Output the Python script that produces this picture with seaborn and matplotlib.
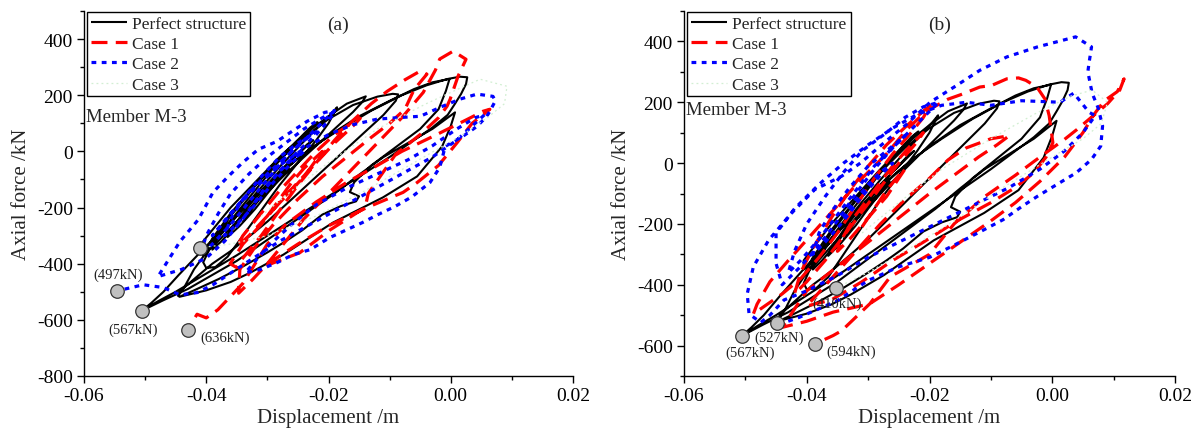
import numpy as np
import matplotlib
matplotlib.use("Agg")
import matplotlib.pyplot as plt
from matplotlib.ticker import MultipleLocator, FormatStrFormatter
import seaborn as sns

# ---------------------------------------------------------------------------
# Hysteresis paths (displacement in m, axial force in kN)
# ---------------------------------------------------------------------------
perfect_path = [
    (-0.034, -250), (-0.032, -190), (-0.030, -135), (-0.028, -90), (-0.0265, -60),
    (-0.0275, -85), (-0.030, -150), (-0.032, -205), (-0.0345, -265), (-0.0365, -305),
    (-0.036, -280), (-0.034, -220), (-0.031, -140), (-0.028, -70), (-0.025, -10),
    (-0.0225, 40), (-0.0235, 25), (-0.026, -30), (-0.029, -100), (-0.032, -180),
    (-0.035, -260), (-0.0375, -320), (-0.039, -350),
    (-0.0385, -310), (-0.036, -230), (-0.033, -150), (-0.030, -70), (-0.027, 0),
    (-0.024, 55), (-0.0225, 90), (-0.0218, 104), (-0.023, 85), (-0.0255, 30),
    (-0.0285, -45), (-0.0315, -125), (-0.0345, -205), (-0.037, -275), (-0.0395, -350),
    (-0.0405, -395), (-0.0400, -415), (-0.0385, -412), (-0.0365, -375),
    (-0.034, -300), (-0.031, -210), (-0.028, -120), (-0.025, -40), (-0.022, 40),
    (-0.020, 100), (-0.0186, 157), (-0.0195, 135), (-0.0215, 90), (-0.0245, 25),
    (-0.028, -55), (-0.0315, -140), (-0.035, -230), (-0.038, -305), (-0.0405, -350),
    (-0.0405, -320), (-0.039, -280), (-0.036, -200), (-0.032, -110), (-0.028, -20),
    (-0.024, 60), (-0.020, 125), (-0.017, 170), (-0.0139, 196), (-0.0145, 175),
    (-0.016, 140), (-0.019, 80), (-0.023, 0), (-0.027, -80), (-0.031, -165),
    (-0.035, -250), (-0.0385, -330), (-0.0405, -370),
    (-0.039, -310), (-0.036, -220), (-0.032, -120), (-0.028, -30), (-0.024, 50),
    (-0.020, 115), (-0.016, 165), (-0.012, 195), (-0.0095, 205), (-0.0086, 203),
    (-0.009, 180), (-0.011, 130), (-0.014, 70), (-0.018, -10), (-0.022, -90),
    (-0.026, -170), (-0.030, -250), (-0.0328, -300), (-0.036, -355), (-0.039, -400),
    (-0.042, -455), (-0.0444, -500), (-0.0446, -515),
    (-0.0435, -480), (-0.042, -420), (-0.039, -330), (-0.035, -230), (-0.030, -120),
    (-0.025, -25), (-0.020, 55), (-0.015, 125), (-0.010, 180), (-0.006, 222),
    (-0.003, 246), (-0.0002, 258), (-0.0008, 215), (-0.002, 150), (-0.005, 80),
    (-0.009, 15), (-0.013, -50), (-0.0158, -110), (-0.0165, -145), (-0.0150, -160),
    (-0.0155, -178), (-0.018, -195), (-0.021, -225), (-0.0243, -281), (-0.027, -320),
    (-0.030, -360), (-0.034, -410), (-0.038, -455), (-0.042, -495), (-0.0444, -518),
    (-0.040, -495), (-0.036, -465), (-0.0328, -432), (-0.0274, -368), (-0.0193, -254),
    (-0.0111, -164), (-0.0055, -89), (-0.0014, 18), (0.0000, 90), (0.0007, 139),
    (-0.0005, 120), (-0.003, 80), (-0.007, 30), (-0.011, -20), (-0.0148, -80),
    (-0.019, -150), (-0.023, -210), (-0.027, -270), (-0.031, -330), (-0.035, -390),
    (-0.039, -440), (-0.043, -490), (-0.047, -530), (-0.0505, -567),
    (-0.049, -540), (-0.047, -500), (-0.0445, -440), (-0.041, -360), (-0.037, -270),
    (-0.033, -180), (-0.028, -80), (-0.023, 10), (-0.018, 80), (-0.013, 145),
    (-0.008, 200), (-0.004, 235), (-0.0005, 258), (0.0015, 266), (0.0027, 264),
    (0.0025, 240), (0.0017, 205), (0.0007, 170), (-0.0005, 130), (-0.003, 85),
    (-0.006, 40), (-0.010, -20), (-0.015, -90), (-0.020, -160), (-0.025, -230),
    (-0.030, -300), (-0.035, -370), (-0.040, -435), (-0.045, -500), (-0.048, -535),
    (-0.0505, -567),
]

case1_path_a = [
    (-0.030, -230), (-0.028, -170), (-0.026, -110), (-0.024, -60), (-0.022, -20),
    (-0.021, 0), (-0.022, -30), (-0.024, -90), (-0.027, -160), (-0.030, -230),
    (-0.033, -300), (-0.035, -340),
    (-0.034, -300), (-0.031, -220), (-0.028, -140), (-0.025, -70), (-0.022, 0),
    (-0.019, 60), (-0.016, 105), (-0.0148, 118), (-0.016, 90), (-0.019, 30),
    (-0.022, -40), (-0.025, -110), (-0.028, -180), (-0.031, -260), (-0.034, -330),
    (-0.0361, -400), (-0.035, -414),
    (-0.034, -380), (-0.031, -300), (-0.028, -210), (-0.025, -120), (-0.022, -40),
    (-0.019, 40), (-0.016, 110), (-0.013, 170), (-0.0104, 214), (-0.0075, 255),
    (-0.005, 286), (-0.0039, 275), (-0.006, 220), (-0.0075, 150), (-0.010, 100),
    (-0.013, 50), (-0.017, -20), (-0.021, -90), (-0.025, -170), (-0.029, -260),
    (-0.032, -340), (-0.0345, -420), (-0.0347, -505),
    (-0.0324, -456), (-0.030, -400), (-0.027, -320), (-0.024, -240), (-0.020, -150),
    (-0.016, -60), (-0.012, 30), (-0.008, 120), (-0.0045, 210), (-0.0025, 290),
    (-0.0018, 329), (0.0004, 357), (0.0025, 328), (0.0012, 268), (-0.0001, 186),
    (-0.0006, 161), (-0.002, 120), (-0.005, 60), (-0.009, -10), (-0.0135, -150),
    (-0.014, -200), (-0.0197, -279), (-0.0247, -361), (-0.0307, -411),
    (-0.025, -330), (-0.020, -265), (-0.0137, -200), (-0.0078, -146), (-0.0055, -111),
    (-0.002, -50), (0.001, 30), (0.0035, 100), (0.0064, 150), (0.0053, 143),
    (0.0027, 114), (0.0004, 89), (-0.0022, 61), (-0.0039, 43), (-0.008, 0),
    (-0.012, -50), (-0.017, -110), (-0.022, -180), (-0.027, -260), (-0.030, -330),
    (-0.032, -400), (-0.034, -470), (-0.0381, -564), (-0.040, -593), (-0.0415, -580),
    (-0.0424, -611), (-0.043, -636),
]

case2_path_a = [
    (-0.032, -180), (-0.030, -120), (-0.028, -70), (-0.026, -30), (-0.024, 0),
    (-0.026, -40), (-0.029, -110), (-0.032, -190), (-0.035, -260), (-0.037, -300),
    (-0.036, -240), (-0.034, -170), (-0.031, -90), (-0.028, -20), (-0.025, 30),
    (-0.022, 70), (-0.024, 40), (-0.027, -20), (-0.030, -100), (-0.033, -180),
    (-0.036, -260), (-0.039, -330), (-0.041, -370),
    (-0.040, -300), (-0.038, -220), (-0.036, -150), (-0.033, -80), (-0.030, -20),
    (-0.027, 30), (-0.024, 80), (-0.021, 120), (-0.019, 141), (-0.020, 110),
    (-0.022, 60), (-0.025, 0), (-0.028, -70), (-0.031, -150), (-0.034, -240),
    (-0.037, -320), (-0.040, -380), (-0.044, -420), (-0.0479, -446),
    (-0.046, -380), (-0.0443, -321), (-0.0413, -243), (-0.0389, -146), (-0.0364, -89),
    (-0.034, -39), (-0.0315, 7), (-0.0284, 36), (-0.026, 71), (-0.0235, 107),
    (-0.0206, 139), (-0.019, 145), (-0.0205, 115), (-0.023, 60), (-0.026, 0),
    (-0.030, -80), (-0.034, -170), (-0.037, -250), (-0.039, -300),
    (-0.036, -220), (-0.032, -130), (-0.028, -50), (-0.024, 10), (-0.020, 60),
    (-0.016, 95), (-0.012, 115), (-0.008, 121), (-0.005, 125), (-0.0013, 161),
    (0.0015, 186), (0.0043, 204), (0.0069, 196), (0.0073, 180), (0.0064, 143),
    (0.0059, 125), (0.0043, 89), (0.002, 54), (-0.0009, 18), (-0.0018, -57),
    (-0.0034, -111), (-0.0063, -161), (-0.0091, -196), (-0.0119, -225), (-0.0145, -254),
    (-0.0198, -307), (-0.023, -350), (-0.0258, -368), (-0.0284, -396), (-0.0312, -421),
    (-0.0336, -432),
    (-0.030, -340), (-0.026, -260), (-0.022, -190), (-0.017, -130), (-0.012, -80),
    (-0.007, -30), (-0.003, 20), (0.001, 80), (0.004, 120), (0.0055, 130),
    (0.004, 100), (0.001, 40), (-0.003, -20), (-0.008, -80), (-0.013, -140),
    (-0.018, -200), (-0.023, -260), (-0.028, -320), (-0.033, -390), (-0.0389, -475),
    (-0.0415, -503), (-0.0443, -511), (-0.047, -485), (-0.0503, -475), (-0.0546, -497),
]

case3_path_a = [
    (-0.031, -230), (-0.026, -140), (-0.020, -40), (-0.012, 80), (-0.004, 170),
    (0.002, 230), (0.0048, 257), (0.0092, 232), (0.0088, 170), (0.006, 120),
    (0.002, 60), (-0.006, -40), (-0.014, -140), (-0.022, -230), (-0.030, -300),
    (-0.036, -330), (-0.041, -343),
]

case1_path_b = [
    (-0.031, -210), (-0.029, -150), (-0.027, -90), (-0.025, -40), (-0.024, -20),
    (-0.025, -50), (-0.027, -110), (-0.030, -180), (-0.033, -250), (-0.035, -290),
    (-0.034, -240), (-0.032, -170), (-0.029, -90), (-0.026, -10), (-0.023, 60),
    (-0.021, 100), (-0.022, 70), (-0.025, 0), (-0.028, -80), (-0.031, -160),
    (-0.034, -240), (-0.037, -320), (-0.040, -390), (-0.042, -430),
    (-0.041, -360), (-0.039, -280), (-0.036, -180), (-0.033, -90), (-0.030, -10),
    (-0.027, 60), (-0.0237, 123), (-0.0206, 178), (-0.0199, 189), (-0.021, 150),
    (-0.023, 100), (-0.026, 30), (-0.029, -50), (-0.032, -140), (-0.035, -230),
    (-0.038, -310), (-0.041, -380), (-0.044, -430), (-0.0487, -496),
    (-0.0481, -464), (-0.046, -390), (-0.043, -320), (-0.039, -230), (-0.035, -140),
    (-0.031, -50), (-0.027, 30), (-0.0237, 110), (-0.0206, 170), (-0.017, 210),
    (-0.0149, 225), (-0.0118, 250), (-0.0099, 255), (-0.0074, 277), (-0.0055, 280),
    (-0.0043, 272), (-0.0025, 250), (-0.0012, 211), (-0.0005, 156), (0.0001, 67),
    (-0.001, 20), (-0.003, -32), (-0.006, -80), (-0.010, -130), (-0.0155, -190),
    (-0.021, -260), (-0.026, -320), (-0.031, -390), (-0.036, -450), (-0.040, -470),
    (-0.036, -380), (-0.032, -290), (-0.028, -200), (-0.024, -120), (-0.020, -50),
    (-0.017, 10), (-0.014, 50), (-0.010, 80), (-0.007, 90), (-0.009, 60),
    (-0.012, 20), (-0.016, -40), (-0.020, -100), (-0.025, -180), (-0.030, -260),
    (-0.035, -340), (-0.040, -420), (-0.044, -540),
    (-0.040, -520), (-0.0357, -490), (-0.0313, -470), (-0.0297, -462), (-0.025, -400),
    (-0.020, -330), (-0.015, -260), (-0.010, -190), (-0.006, -130), (-0.002, -60),
    (0.002, 20), (0.005, 100), (0.0068, 160), (0.0085, 205), (0.0106, 235),
    (0.0117, 277), (0.0110, 240), (0.009, 195), (0.0067, 156), (0.004, 110),
    (0.002, 78), (-0.002, 20), (-0.006, -40), (-0.011, -110), (-0.016, -200),
    (-0.020, -300), (-0.0264, -374), (-0.0297, -462), (-0.0343, -551), (-0.0357, -567),
    (-0.0386, -594),
]

case2_path_b = [
    (-0.034, -180), (-0.032, -120), (-0.030, -70), (-0.028, -30), (-0.026, 0),
    (-0.028, -40), (-0.031, -110), (-0.034, -190), (-0.037, -260), (-0.039, -300),
    (-0.038, -230), (-0.036, -160), (-0.033, -80), (-0.030, -10), (-0.027, 40),
    (-0.024, 90), (-0.026, 50), (-0.029, -10), (-0.032, -90), (-0.035, -170),
    (-0.038, -250), (-0.041, -320), (-0.043, -360),
    (-0.042, -290), (-0.040, -200), (-0.037, -110), (-0.034, -30), (-0.031, 40),
    (-0.027, 100), (-0.024, 150), (-0.021, 185), (-0.0185, 200), (-0.020, 170),
    (-0.023, 110), (-0.026, 50), (-0.029, -20), (-0.032, -100), (-0.035, -190),
    (-0.038, -270), (-0.041, -340), (-0.044, -400),
    (-0.045, -330), (-0.045, -231), (-0.042, -150), (-0.038, -70), (-0.034, 0),
    (-0.030, 60), (-0.026, 115), (-0.022, 160), (-0.018, 190), (-0.014, 200),
    (-0.010, 190), (-0.005, 205), (0.0013, 200), (0.0035, 230), (0.006, 167),
    (0.007, 156), (0.005, 100), (0.002, 40), (-0.002, -20), (-0.007, -80),
    (-0.012, -130), (-0.018, -190), (-0.024, -250), (-0.030, -310), (-0.035, -370),
    (-0.040, -420), (-0.0437, -450), (-0.046, -500), (-0.0475, -524),
    (-0.0494, -496), (-0.0497, -430), (-0.0487, -341), (-0.0462, -253), (-0.0425, -165),
    (-0.0387, -87), (-0.0343, -43), (-0.0312, 1), (-0.0274, 67), (-0.0237, 128),
    (-0.0199, 200), (-0.0156, 255), (-0.0118, 305), (-0.0074, 349), (-0.0024, 382),
    (0.0010, 400), (0.0038, 415), (0.0064, 382), (0.0060, 330), (0.0058, 300),
    (0.0065, 230), (0.0075, 180), (0.0082, 122), (0.0079, 56), (0.0064, 12),
    (0.0039, -32), (0.0007, -71), (-0.0024, -109), (-0.0049, -142), (-0.008, -186),
    (-0.0112, -220), (-0.016, -270), (-0.020, -310), (-0.025, -341), (-0.030, -386),
    (-0.035, -452), (-0.0387, -485), (-0.0412, -507), (-0.0443, -529), (-0.0448, -527),
]

case3_path_b = [
    (-0.031, -230), (-0.025, -130), (-0.018, -20), (-0.010, 80), (-0.003, 160),
    (0.003, 220), (0.0065, 240), (0.009, 200), (0.008, 130), (0.005, 80),
    (0.000, 20), (-0.008, -80), (-0.016, -190), (-0.024, -290), (-0.030, -360),
    (-0.0352, -410),
]

# Failure points: displacement (m), axial force magnitude (kN), annotation
fail_disp_a = [-0.0546, -0.0505, -0.0430, -0.0410]
fail_force_a = [497, 567, 636, 343]
fail_text_a = ["(497kN)", "(567kN)", "(636kN)", ""]
fail_text_pos_a = [(-0.0544, -436), (-0.0520, -632), (-0.0369, -661), None]

fail_disp_b = [-0.0505, -0.0448, -0.0386, -0.0352]
fail_force_b = [567, 527, 594, 410]
fail_text_b = ["(567kN)", "(527kN)", "(594kN)", "(410kN)"]
fail_text_pos_b = [(-0.0493, -622), (-0.0445, -573), (-0.0328, -619), (-0.0351, -462)]

series_labels = ["Perfect structure", "Case 1", "Case 2", "Case 3"]

# ---------------------------------------------------------------------------
sns.set_theme(style="ticks")
plt.rcParams["font.family"] = ["Liberation Serif", "DejaVu Serif"]
plt.rcParams["axes.unicode_minus"] = False

styles = [
    dict(color="black", lw=1.5, linestyle="-"),
    dict(color="#ff0000", lw=2.3, linestyle=(0, (5.0, 2.6))),
    dict(color="#0000ff", lw=2.3, linestyle=(0, (1.5, 1.7))),
    dict(color="#d2efd2", lw=0.9, linestyle=(0, (1.5, 2.5))),
]

fig = plt.figure(figsize=(12.01, 4.35), dpi=100)
ax_a = fig.add_axes([84 / 1201, 58 / 435, 489 / 1201, 365 / 435])
ax_b = fig.add_axes([684 / 1201, 58 / 435, 491 / 1201, 365 / 435])


def draw_panel(ax, paths, fail_disp, fail_force, fail_text, text_pos, tag,
               ylim, yticks, member_y):
    for path, st, lab in zip(paths, styles, series_labels):
        arr = np.array(path)
        sns.lineplot(x=arr[:, 0], y=arr[:, 1], sort=False, estimator=None,
                     ax=ax, label=lab, solid_capstyle="butt",
                     dash_capstyle="butt", **st)
    sns.scatterplot(x=fail_disp, y=[-f for f in fail_force], ax=ax, s=95,
                    color="#c0c0c0", edgecolor="#333333", linewidth=0.9,
                    zorder=5, legend=False)
    for txt, pos in zip(fail_text, text_pos):
        if txt:
            ax.text(pos[0], pos[1], txt, ha="center", va="center",
                    fontsize=10.5, color="#222222")

    ax.set_xlim(-0.06, 0.02)
    ax.set_ylim(*ylim)
    ax.set_xticks(np.arange(-0.06, 0.021, 0.02))
    ax.set_yticks(yticks)
    ax.xaxis.set_major_formatter(FormatStrFormatter("%.2f"))
    ax.xaxis.set_minor_locator(MultipleLocator(0.01))
    ax.yaxis.set_minor_locator(MultipleLocator(100))
    ax.tick_params(axis="both", which="major", direction="out", length=5,
                   width=1, labelsize=14, colors="black", pad=3)
    ax.tick_params(axis="both", which="minor", direction="out", length=3,
                   width=1, colors="black")
    for side in ("top", "right"):
        ax.spines[side].set_visible(False)
    for side in ("left", "bottom"):
        ax.spines[side].set_color("black")
        ax.spines[side].set_linewidth(1.0)
    ax.set_facecolor("white")
    ax.set_xlabel("Displacement /m", fontsize=15, labelpad=3)
    ax.set_ylabel("Axial force /kN", fontsize=15, labelpad=4)

    handles = ax.get_lines()[:4]
    leg = ax.legend(handles, series_labels, loc="upper left",
                    bbox_to_anchor=(0.006, 0.998), borderaxespad=0,
                    fontsize=12.5, frameon=True, fancybox=False,
                    framealpha=1, edgecolor="black", handlelength=2.1,
                    handletextpad=0.3, labelspacing=0.24, borderpad=0.22)
    leg.get_frame().set_linewidth(1.0)

    ax.text(0.52, 0.964, tag, transform=ax.transAxes, ha="center",
            va="center", fontsize=14)
    ax.text(0.004, member_y, "Member M-3", transform=ax.transAxes,
            ha="left", va="center", fontsize=13.5)


draw_panel(ax_a, [perfect_path, case1_path_a, case2_path_a, case3_path_a],
           fail_disp_a, fail_force_a, fail_text_a, fail_text_pos_a, "(a)",
           (-800, 500), np.arange(-800, 401, 200), 0.71)
draw_panel(ax_b, [perfect_path, case1_path_b, case2_path_b, case3_path_b],
           fail_disp_b, fail_force_b, fail_text_b, fail_text_pos_b, "(b)",
           (-700, 500), np.arange(-600, 401, 200), 0.729)

fig.savefig("out.png", dpi=100, facecolor="white")
